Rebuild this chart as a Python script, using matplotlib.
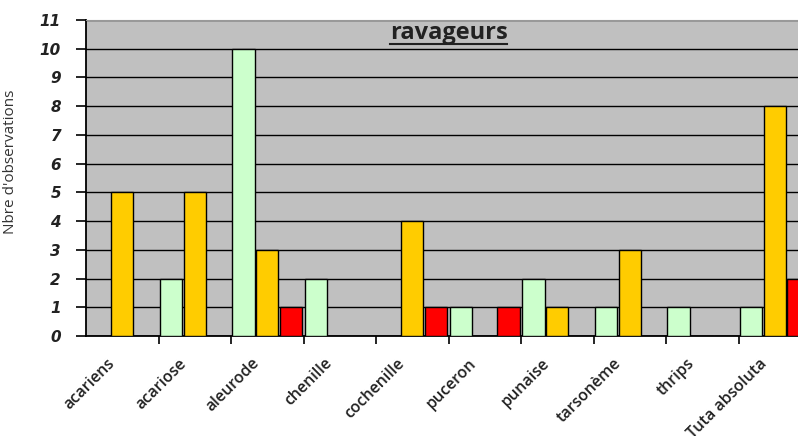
import matplotlib.pyplot as plt
import numpy as np
from matplotlib.lines import Line2D
from matplotlib.transforms import ScaledTranslation

# Données : nombre d'observations par ravageur
categories = ['acariens', 'acariose', 'aleurode', 'chenille', 'cochenille',
              'puceron', 'punaise', 'tarsonème', 'thrips', 'Tuta absoluta']
serie_vert = [0, 2, 10, 2, 0, 1, 2, 1, 1, 1]
serie_orange = [5, 5, 3, 0, 4, 0, 1, 3, 0, 8]
serie_rouge = [0, 0, 1, 0, 1, 1, 0, 0, 0, 2]

series = [(serie_vert, '#CCFFCC', -0.33),
          (serie_orange, '#FFCC00', 0.0),
          (serie_rouge, '#FF0000', 0.33)]

fig = plt.figure(figsize=(7.98, 4.36), dpi=100)
# le graphique d'origine est rogné à droite
ax = fig.add_axes([86 / 798, 100 / 436, 725 / 798, 316 / 436])
ax.set_facecolor('#C0C0C0')

x = np.arange(len(categories))
for vals, col, off in series:
    ax.bar(x + off, vals, width=0.31, color=col, edgecolor='black',
           linewidth=1, zorder=3)

ax.set_xlim(-0.5, len(categories) - 0.5)
ax.set_ylim(0, 11)
ax.set_yticks(range(0, 12))
ax.grid(axis='y', color='black', linewidth=1, zorder=1)
ax.set_axisbelow(True)

# graduations de l'axe x entre les catégories
ax.set_xticks(x)
ax.set_xticks(x[:-1] + 0.5, minor=True)
ax.tick_params(axis='x', which='major', length=0, pad=14)
ax.tick_params(axis='x', which='minor', length=6, width=1.2, direction='out')
ax.set_xticklabels(categories, rotation=45, ha='right', va='top',
                   rotation_mode='anchor', fontsize=11.5, family='Open Sans',
                   fontweight='semibold', color='#222222')
decal = ScaledTranslation(-16 / 100, 0, fig.dpi_scale_trans)
for lab in ax.get_xticklabels():
    lab.set_transform(lab.get_transform() + decal)

ax.tick_params(axis='y', length=7, width=1.2, direction='out', pad=11)
for lab in ax.get_yticklabels():
    lab.set_fontsize(11)
    lab.set_fontweight('bold')
    lab.set_fontstyle('italic')
    lab.set_color('#222222')

for s in ['left', 'bottom']:
    ax.spines[s].set_linewidth(1.3)
ax.spines['top'].set_color('#999999')
ax.spines['right'].set_visible(False)

ax.set_ylabel("Nbre d'observations", fontsize=11, family='Open Sans',
              color='#333333')
ax.yaxis.set_label_coords(-0.094, 0.55)

# titre souligné dans la zone de tracé
titre = ax.text(0.5, 0.958, 'ravageurs', transform=ax.transAxes,
                ha='center', va='center', fontsize=17, fontweight='bold',
                family='Open Sans', color='#222222', zorder=5)
fig.canvas.draw()
bb = titre.get_window_extent()
fig.add_artist(Line2D([bb.x0 / fig.bbox.width, bb.x1 / fig.bbox.width],
                      [(bb.y0 + 1) / fig.bbox.height] * 2,
                      transform=fig.transFigure, color='#222222', linewidth=1.5))

fig.savefig('out.png', dpi=100)
